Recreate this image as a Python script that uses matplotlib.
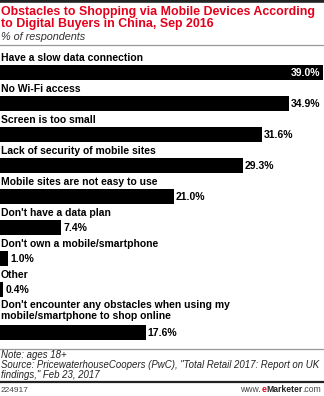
import matplotlib
matplotlib.use("Agg")
import matplotlib.pyplot as plt

plt.rcParams['font.family'] = ['Liberation Sans', 'DejaVu Sans']

labels = [
    "Have a slow data connection",
    "No Wi-Fi access",
    "Screen is too small",
    "Lack of security of mobile sites",
    "Mobile sites are not easy to use",
    "Don't have a data plan",
    "Don't own a mobile/smartphone",
    "Other",
    "Don't encounter any obstacles when using my\nmobile/smartphone to shop online",
]
values = [39.0, 34.9, 31.6, 29.3, 21.0, 7.4, 1.0, 0.4, 17.6]

title = "Obstacles to Shopping via Mobile Devices According\nto Digital Buyers in China, Sep 2016"
subtitle = "% of respondents"
note = ("Note: ages 18+\n"
        "Source: PricewaterhouseCoopers (PwC), \"Total Retail 2017: Report on UK\n"
        "findings,\" Feb 23, 2017")
chart_id = "224917"

W, H = 324, 396
fig = plt.figure(figsize=(W / 100, H / 100), dpi=100)
ax = fig.add_axes([0, 0, 1, 1])
# x in percent (about 8.3 px per point), y in pixels from the top
px_per_pct = 8.28
ax.set_xlim(0, W / px_per_pct)
ax.set_ylim(H, 0)
ax.axis("off")

def px(x):
    return x / px_per_pct

# header
ax.axhline(1.2, color="#222222", lw=2.6)
ax.text(px(1), 17.5, title, color="#e4001b", fontsize=8.9, fontweight="bold",
        va="center", ha="left", linespacing=1.0)
ax.text(px(1), 37, subtitle, color="#333333", fontsize=7.8, style="italic",
        va="center", ha="left")
ax.axhline(45, color="#999999", lw=0.9)

# bars
centers = []
y = 72.5
for lab in labels:
    if "\n" in lab:
        y += 12
    centers.append(y)
    y += 31

ax.barh(centers, values, height=15, color="black", left=0)
for c, lab, v in zip(centers, labels, values):
    off = 22 if "\n" in lab else 14.5
    ax.text(px(1), c - off, lab, fontsize=7.5, fontweight="bold", color="black",
            va="center", ha="left", linespacing=1.05)
    txt = f"{v:.1f}%"
    if v == max(values):
        ax.text(v - px(3), c + 0.5, txt, fontsize=7.5, fontweight="bold",
                color="white", va="center", ha="right")
    else:
        ax.text(v + px(2), c + 0.5, txt, fontsize=7.5, fontweight="bold",
                color="black", va="center", ha="left")

# footer
ax.axhline(349, color="#999999", lw=0.9)
ax.text(px(1), 365.5, note, fontsize=6.9, style="italic", color="#222222",
        va="center", ha="left", linespacing=1.0)
ax.axhline(382, color="#222222", lw=1.6)
ax.text(px(1), 390, chart_id, fontsize=6.0, color="#444444", va="center", ha="left")

# eMarketer signature, built right to left
inv = ax.transData.inverted()
xr = px(321)
for part, col, wt in [(".com", "#444444", "normal"), ("Marketer", "#222222", "bold"),
                      ("e", "#e4001b", "bold"), ("www.", "#444444", "normal")]:
    t = ax.text(xr, 390, part, fontsize=6.2, color=col, fontweight=wt,
                va="center", ha="right")
    fig.canvas.draw()
    xr = inv.transform((t.get_window_extent().x0, 0))[0]

fig.savefig("out.png", dpi=100)
